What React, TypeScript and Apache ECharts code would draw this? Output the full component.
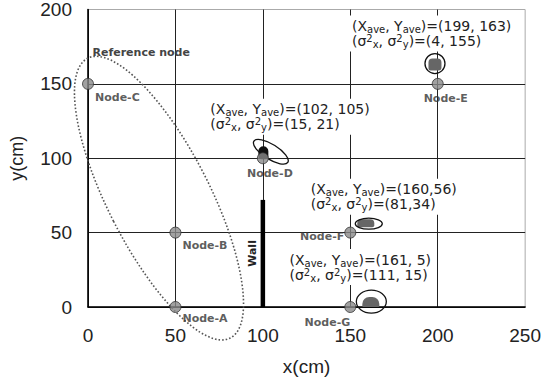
import React, { useEffect, useRef } from 'react';
import * as echarts from 'echarts';

// ---------- data ----------
const xMin = 0;
const xMax = 250;
const xStep = 50;
const yMin = 0;
const yMax = 200;
const yStep = 50;

const nodeNames = ['Node-A', 'Node-B', 'Node-C', 'Node-D', 'Node-E', 'Node-F', 'Node-G'];
const nodeX = [50, 50, 0, 100, 200, 150, 150];
const nodeY = [0, 50, 150, 100, 150, 50, 0];

const clusterXAve = [199, 102, 160, 161];
const clusterYAve = [163, 105, 56, 5];
const clusterVarX = [4, 15, 81, 111];
const clusterVarY = [155, 21, 34, 15];
const clusterCompact = [false, false, true, false];

const wallX = [100];
const wallTop = [72];

const refRegionCenter = [40.6, 73.2];
const refRegionLabel = 'Reference node';

// ---------- layout / style (pixels) ----------
const nodeLabelLayout = [
  { align: 'left', dx: 7, dy: 11 },
  { align: 'left', dx: 7, dy: 13 },
  { align: 'left', dx: 7, dy: 14 },
  { align: 'center', dx: 7, dy: 15 },
  { align: 'center', dx: 8, dy: 15 },
  { align: 'right', dx: -6, dy: 4 },
  { align: 'right', dx: 0, dy: 15 },
];

const clusterLayout = [
  { rx: 10, ry: 10, rot: 0, ox: -1, oy: -1, blob: { w: 13, h: 12, ox: -1, oy: 0, r: [4, 4, 3, 2], fill: '#666' }, tx: -87, ty: -31 },
  { rx: 20, ry: 7.5, rot: -32, ox: 4.5, oy: 1, blob: { w: 10, h: 13, ox: -3, oy: 2, r: [5, 5, 3, 3], fill: '#111' }, tx: -59, ty: -34 },
  { rx: 13.5, ry: 5.5, rot: 0, ox: 1, oy: 0, blob: { w: 17, h: 8, ox: -2, oy: -0.5, r: [4, 4, 2, 2], fill: '#666' }, tx: -60, ty: -27 },
  { rx: 15, ry: 11.5, rot: 0, ox: 1.8, oy: 2, blob: { w: 17, h: 10, ox: 1.3, oy: 2.5, r: [7, 7, 1, 1], fill: '#666' }, tx: -83, ty: -32.5 },
];

const refEllipse = { rx: 51, ry: 157, rot: 27, labelDx: -66.5, labelDy: -146 };

const FONT = 'DejaVu Sans';
const AXIS_FONT = 'Liberation Sans';

const rich = {
  m: { fontSize: 14, fontFamily: FONT, fill: '#222', lineHeight: 15 },
  sub: { fontSize: 10, fontFamily: FONT, fill: '#222', lineHeight: 15, verticalAlign: 'top', padding: [6, 0, 0, 0] },
  sup: { fontSize: 10, fontFamily: FONT, fill: '#222', lineHeight: 15, verticalAlign: 'top' },
};

function clusterText(i: number): string {
  const sep = clusterCompact[i] ? ',' : ', ';
  const l1 = `{m|(X}{sub|ave}{m|, Y}{sub|ave}{m|)=(${clusterXAve[i]}${sep}${clusterYAve[i]})}`;
  const l2 = `{m|(σ}{sup|2}{sub|x}{m|, σ}{sup|2}{sub|y}{m|)=(${clusterVarX[i]}${sep}${clusterVarY[i]})}`;
  return l1 + '\n' + l2;
}

export default function App() {
  const ref = useRef<HTMLDivElement>(null);

  useEffect(() => {
    document.body.style.margin = '0';
    if (!ref.current) return;
    const chart = echarts.init(ref.current, undefined, { renderer: 'svg' });

    const axisCommon = {
      type: 'value' as const,
      axisTick: { show: false },
      axisLine: { show: true, lineStyle: { color: '#000', width: 1.5 } },
      splitLine: { show: true, showMaxLine: false, lineStyle: { color: '#222', width: 1 } },
    };

    const option: any = {
      animation: false,
      backgroundColor: '#fff',
      grid: { left: 88, right: 18, top: 9, bottom: 74, show: true, borderColor: '#aaa', borderWidth: 1, backgroundColor: 'transparent' },
      xAxis: {
        ...axisCommon,
        min: xMin,
        max: xMax,
        interval: xStep,
        axisLabel: { fontSize: 19, color: '#222', fontFamily: AXIS_FONT, margin: 19 },
        name: 'x(cm)',
        nameLocation: 'middle',
        nameGap: 50,
        nameTextStyle: { fontSize: 19, color: '#222', fontFamily: AXIS_FONT },
      },
      yAxis: {
        ...axisCommon,
        min: yMin,
        max: yMax,
        interval: yStep,
        axisLabel: { fontSize: 19, color: '#222', fontFamily: AXIS_FONT, margin: 16 },
        name: 'y(cm)',
        nameLocation: 'middle',
        nameGap: 62,
        nameTextStyle: { fontSize: 18, color: '#222', fontFamily: AXIS_FONT },
      },
      series: [
        {
          type: 'custom',
          name: 'reference',
          clip: false,
          z: 3,
          data: [[refRegionCenter[0], refRegionCenter[1]]],
          renderItem: (params: any, api: any) => {
            const c = api.coord([api.value(0), api.value(1)]);
            return {
              type: 'group',
              children: [
                {
                  type: 'ellipse',
                  x: c[0],
                  y: c[1],
                  rotation: (refEllipse.rot * Math.PI) / 180,
                  shape: { cx: 0, cy: 0, rx: refEllipse.rx, ry: refEllipse.ry },
                  style: { fill: 'none', stroke: '#555', lineWidth: 1.6, lineDash: [1.6, 2] },
                },
                {
                  type: 'text',
                  x: c[0] + refEllipse.labelDx,
                  y: c[1] + refEllipse.labelDy,
                  style: {
                    text: refRegionLabel,
                    fontSize: 11,
                    fontWeight: 'bold',
                    fontFamily: FONT,
                    fill: '#444',
                    align: 'left',
                    verticalAlign: 'middle',
                  },
                },
              ],
            };
          },
        },
        {
          type: 'custom',
          name: 'wall',
          clip: false,
          z: 4,
          data: wallX.map((x, i) => [x, wallTop[i]]),
          renderItem: (params: any, api: any) => {
            const b = api.coord([api.value(0), 0]);
            const t = api.coord([api.value(0), api.value(1)]);
            return {
              type: 'group',
              children: [
                {
                  type: 'rect',
                  shape: { x: b[0] - 2.25, y: t[1], width: 4.5, height: b[1] - t[1] },
                  style: { fill: '#000' },
                },
                {
                  type: 'text',
                  x: b[0] - 10,
                  y: (t[1] + b[1]) / 2,
                  rotation: Math.PI / 2,
                  style: {
                    text: 'Wall',
                    fontSize: 11,
                    fontWeight: 'bold',
                    fontFamily: FONT,
                    fill: '#222',
                    align: 'center',
                    verticalAlign: 'middle',
                  },
                },
              ],
            };
          },
        },
        {
          type: 'custom',
          name: 'clusters',
          clip: false,
          z: 5,
          data: clusterXAve.map((x, i) => [x, clusterYAve[i]]),
          renderItem: (params: any, api: any) => {
            const i = params.dataIndex;
            const L = clusterLayout[i];
            const c = api.coord([api.value(0), api.value(1)]);
            const children: any[] = [
              {
                type: 'text',
                x: c[0] + L.tx,
                y: c[1] + L.ty,
                z2: 1,
                style: {
                  text: clusterText(i),
                  rich,
                  align: 'left',
                  verticalAlign: 'middle',
                  backgroundColor: '#fff',
                  padding: [3, 3, 3, 3],
                },
              },
              {
                type: 'rect',
                x: c[0] + L.blob.ox,
                y: c[1] + L.blob.oy,
                shape: { x: -L.blob.w / 2, y: -L.blob.h / 2, width: L.blob.w, height: L.blob.h, r: L.blob.r },
                z2: 2,
                style: { fill: L.blob.fill },
              },
              {
                type: 'ellipse',
                x: c[0] + L.ox,
                y: c[1] + L.oy,
                rotation: (L.rot * Math.PI) / 180,
                shape: { cx: 0, cy: 0, rx: L.rx, ry: L.ry },
                z2: 3,
                style: { fill: 'none', stroke: '#111', lineWidth: 1.3 },
              },
            ];
            return { type: 'group', children };
          },
        },
        {
          type: 'scatter',
          name: 'nodes',
          clip: false,
          z: 6,
          symbol: 'circle',
          symbolSize: 11,
          itemStyle: { color: '#8a8a8a', borderColor: '#333', borderWidth: 1 },
          label: {
            show: true,
            position: 'inside',
            formatter: '{b}',
            fontSize: 11,
            fontWeight: 'bold',
            fontFamily: FONT,
            color: '#333',
          },
          data: nodeNames.map((n, i) => ({
            name: n,
            value: [nodeX[i], nodeY[i]],
            label: { align: nodeLabelLayout[i].align, offset: [nodeLabelLayout[i].dx, nodeLabelLayout[i].dy] },
          })),
        },
      ],
    };

    chart.setOption(option);
    return () => chart.dispose();
  }, []);

  return <div ref={ref} style={{ position: 'absolute', left: 0, top: 0, width: 544, height: 381 }} />;
}
